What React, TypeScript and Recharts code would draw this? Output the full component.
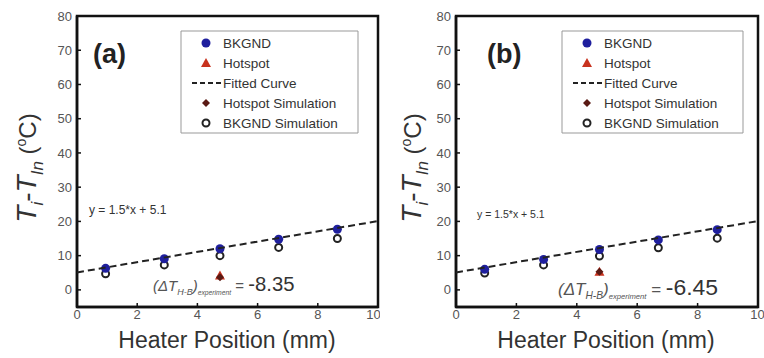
import { ComposedChart, Scatter, XAxis, YAxis, Customized, ReferenceArea } from "recharts"

// heater positions (mm) where the five sensors sit
const heaterPos = [0.95, 2.9, 4.75, 6.7, 8.65]
const hotspotPos = [4.75]

// panel (a)
const bkgndA = [6.3, 9.1, 12.0, 14.8, 17.7]
const bkgndSimA = [4.7, 7.3, 10.0, 12.4, 15.0]
const hotspotA = [4.2]
const hotspotSimA = [3.7]

// panel (b)
const bkgndB = [6.0, 8.9, 11.8, 14.6, 17.6]
const bkgndSimB = [4.9, 7.3, 9.9, 12.3, 15.1]
const hotspotB = [5.3]
const hotspotSimB = [5.3]

// fitted curve end points, y = 1.5*x + 5.1
const fitX = [0, 10]
const fitY = [5.1, 20.1]

const xTicks = [0, 2, 4, 6, 8, 10]
const yTicks = [0, 10, 20, 30, 40, 50, 60, 70, 80]

const FONT = "Arial"
const BLUE = "#1f1f9e"
const RED = "#c8321e"
const SOLID = "2000 1"

const zip = (xs: number[], ys: number[]) => xs.map((x, i) => ({ x, y: ys[i] }))

const BlueDot = (p: any) => <circle cx={p.cx} cy={p.cy} r={4.5} fill={BLUE} />
const OpenDot = (p: any) => <circle cx={p.cx} cy={p.cy} r={3.5} fill="#fff" fillOpacity={0} stroke="#222" strokeWidth={2} />
const Tri = (p: any) => (
  <polygon points={`${p.cx},${p.cy - 5} ${p.cx - 5},${p.cy + 4} ${p.cx + 5},${p.cy + 4}`} fill={RED} />
)
const Diamond = (p: any) => (
  <path
    d={`M${p.cx - 4},${p.cy} L${p.cx},${p.cy - 4} L${p.cx + 4},${p.cy} L${p.cx},${p.cy + 4} Z`}
    fill="#5a1a14"
  />
)
const NoShape = () => <g />

const tickStyle = { fontFamily: FONT, fontSize: 13, fill: "#555" }
const axisLine = { stroke: "#111", strokeWidth: 2.5, strokeDasharray: SOLID }
const tickLine = { stroke: "#111", strokeWidth: 1.5, strokeDasharray: SOLID }

function Legend2({ lx, w }: { lx: number; w: number }) {
  const mx = lx + 25
  const tx = lx + 42
  const rows = [43, 63, 83, 103, 123]
  const ts = { fontFamily: FONT, fontSize: 13.5, fill: "#333" }
  return (
    <g>
      <rect x={lx} y={31} width={w} height={102} fill="#fff" stroke="#999" strokeWidth={1} strokeDasharray={SOLID} />
      <BlueDot cx={mx} cy={rows[0]} />
      <text x={tx} y={rows[0] + 5} {...ts}>BKGND</text>
      <Tri cx={mx} cy={rows[1]} />
      <text x={tx} y={rows[1] + 5} {...ts}>Hotspot</text>
      <line x1={mx - 14} x2={tx - 2} y1={rows[2]} y2={rows[2]} stroke="#222" strokeWidth={2} strokeDasharray="5 3" />
      <text x={tx} y={rows[2] + 5} {...ts}>Fitted Curve</text>
      <Diamond cx={mx} cy={rows[3]} />
      <text x={tx} y={rows[3] + 5} {...ts}>Hotspot Simulation</text>
      <OpenDot cx={mx} cy={rows[4]} />
      <text x={tx} y={rows[4] + 5} {...ts}>BKGND Simulation</text>
    </g>
  )
}

function YLabel({ x }: { x: number }) {
  return (
    <text transform={`translate(${x}, 168) rotate(-90)`} textAnchor="middle" fontFamily={FONT} fill="#333">
      <tspan fontSize={28} fontStyle="italic">T</tspan>
      <tspan fontSize={17} fontStyle="italic" dy={7}>i</tspan>
      <tspan fontSize={28} dy={-7}>-</tspan>
      <tspan fontSize={28} fontStyle="italic">T</tspan>
      <tspan fontSize={17} fontStyle="italic" dy={7}>In</tspan>
      <tspan fontSize={24} dy={-7}> (</tspan>
      <tspan fontSize={14} dy={-10}>o</tspan>
      <tspan fontSize={24} dy={10}>C)</tspan>
    </text>
  )
}

function Delta({ x, y, size, value }: { x: number; y: number; size: number; value: string }) {
  return (
    <text x={x} y={y} fontFamily={FONT} fill="#555">
      <tspan fontSize={size} fontStyle="italic">(ΔT</tspan>
      <tspan fontSize={size * 0.6} fontStyle="italic" dy={4}>H-B</tspan>
      <tspan fontSize={size} fontStyle="italic" dy={-4}>)</tspan>
      <tspan fontSize={size * 0.45} fontStyle="italic" dy={4}>experiment</tspan>
      <tspan fontSize={size} dy={-4}> = </tspan>
      <tspan fontSize={size * 1.35} fill="#333">{value}</tspan>
    </text>
  )
}

function C({ which }: { which: "a" | "b" }) {
  const isA = which === "a"
  const bk = isA ? bkgndA : bkgndB
  const bkSim = isA ? bkgndSimA : bkgndSimB
  const hot = isA ? hotspotA : hotspotB
  const hotSim = isA ? hotspotSimA : hotspotSimB
  const w = isA ? 380 : 384
  const ml = isA ? 47 : 46
  const mr = isA ? 2 : 6
  const plotX = ml + 30
  return (
    <ComposedChart width={w} height={358} margin={{ top: 16, right: mr, bottom: 21, left: ml }}>
      <XAxis type="number" dataKey="x" domain={[0, 10]} ticks={xTicks} height={30} axisLine={axisLine} tickLine={tickLine} tickSize={-4} tickMargin={7} tick={tickStyle} />
      <XAxis xAxisId="top" orientation="top" type="number" dataKey="x" domain={[0, 10]} ticks={xTicks} height={0} axisLine={axisLine} tickLine={tickLine} tickSize={-4} tick={false} />
      <YAxis type="number" dataKey="y" domain={[-5, 80]} ticks={yTicks} width={30} axisLine={axisLine} tickLine={tickLine} tickSize={-4} tickMargin={9} tick={tickStyle} />
      <YAxis yAxisId="right" orientation="right" type="number" dataKey="y" domain={[-5, 80]} ticks={yTicks} width={0} axisLine={axisLine} tickLine={tickLine} tickSize={-4} tick={false} />
      <ReferenceArea x1={0} x2={10} y1={-5} y2={80} fill="#fff" fillOpacity={0} stroke="#111" strokeWidth={2.5} strokeDasharray={SOLID} />
      <Scatter data={zip(heaterPos, bkSim)} shape={OpenDot} isAnimationActive={false} />
      <Scatter data={zip(heaterPos, bk)} shape={BlueDot} isAnimationActive={false} />
      <Scatter data={zip(hotspotPos, hot)} shape={Tri} isAnimationActive={false} />
      <Scatter data={zip(hotspotPos, hotSim)} shape={Diamond} isAnimationActive={false} />
      <Scatter
        xAxisId="top"
        yAxisId="right"
        data={zip(fitX, fitY)}
        line={{ stroke: "#222", strokeWidth: 2, strokeDasharray: "7 4" }}
        shape={NoShape}
        isAnimationActive={false}
      />
      <Customized component={<Legend2 lx={isA ? 181 : 182} w={isA ? 177 : 181} />} />
      <text x={isA ? 93 : 107} y={63} fontFamily={FONT} fontWeight="bold" fontSize={27} fill="#222">{isA ? "(a)" : "(b)"}</text>
      <text x={isA ? 89 : 97} y={isA ? 214 : 218} fontFamily={FONT} fontSize={isA ? 12 : 10.5} fill="#333">y = 1.5*x + 5.1</text>
      <Delta x={isA ? 153 : 178} y={isA ? 291 : 295} size={isA ? 15 : 17} value={isA ? "-8.35" : "-6.45"} />
      <YLabel x={isA ? 36 : 41} />
      <text x={plotX + 150} y={348} textAnchor="middle" fontFamily={FONT} fontSize={23} fill="#333">Heater Position (mm)</text>
    </ComposedChart>
  )
}

export default function App() {
  return (
    <div style={{ position: "absolute", left: 0, top: 0 }}>
      <div style={{ position: "absolute", left: 0, top: 0 }}><C which="a" /></div>
      <div style={{ position: "absolute", left: 380, top: 0 }}><C which="b" /></div>
    </div>
  )
}
